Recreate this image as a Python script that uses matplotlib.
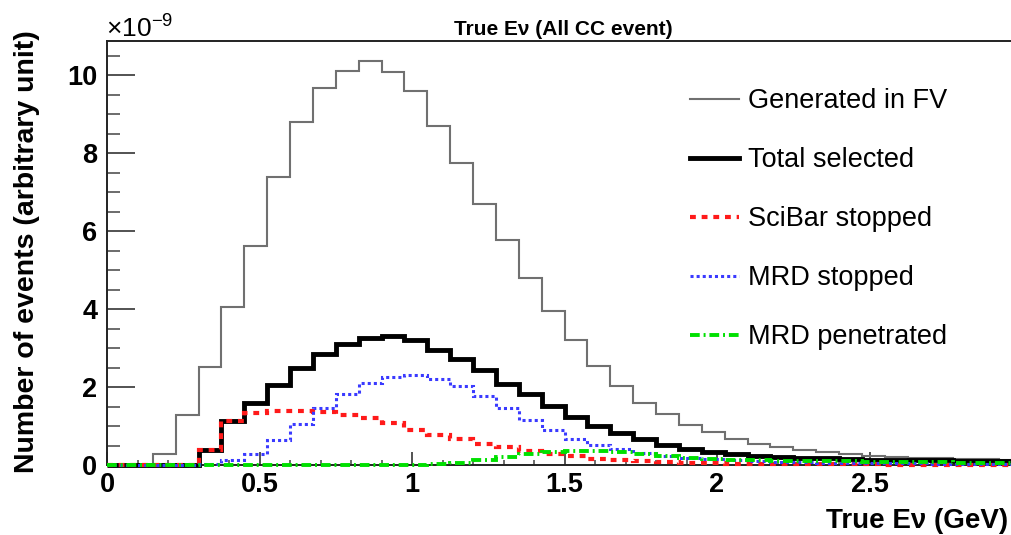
import numpy as np
import matplotlib
matplotlib.use("Agg")
import matplotlib.pyplot as plt
from matplotlib.ticker import MultipleLocator

# histogram binning: 40 bins of 0.075 GeV starting at 0
n_bins = 40
bin_width = 0.075

# bin contents (units of 1e-9)
generated = [0, 0, 0.28, 1.28, 2.52, 4.05, 5.62, 7.39, 8.79, 9.68,
             10.11, 10.36, 10.08, 9.6, 8.7, 7.75, 6.71, 5.77, 4.79, 3.95,
             3.2, 2.54, 2.03, 1.6, 1.3, 1.03, 0.85, 0.68, 0.55, 0.47,
             0.38, 0.33, 0.28, 0.24, 0.21, 0.19, 0.17, 0.16, 0.15, 0.14]
total = [0, 0, 0, 0, 0.38, 1.14, 1.6, 2.05, 2.48, 2.85,
         3.1, 3.27, 3.32, 3.2, 2.95, 2.71, 2.44, 2.09, 1.82, 1.51,
         1.22, 1.0, 0.82, 0.66, 0.52, 0.42, 0.33, 0.27, 0.23, 0.2,
         0.18, 0.17, 0.15, 0.14, 0.13, 0.12, 0.12, 0.11, 0.1, 0.1]
scibar_stopped = [0, 0, 0, 0, 0.38, 1.14, 1.34, 1.38, 1.39, 1.35,
                  1.28, 1.2, 1.08, 0.9, 0.77, 0.67, 0.55, 0.45, 0.37, 0.29,
                  0.22, 0.16, 0.12, 0.09, 0.07, 0.05, 0.04, 0.03, 0.03, 0.02,
                  0.02, 0.02, 0.02, 0.02, 0.01, 0.01, 0.01, 0.01, 0.01, 0.01]
mrd_stopped = [0, 0, 0, 0, 0.02, 0.13, 0.28, 0.64, 1.06, 1.46,
               1.81, 2.11, 2.27, 2.32, 2.2, 2.02, 1.77, 1.45, 1.15, 0.9,
               0.66, 0.51, 0.4, 0.31, 0.24, 0.19, 0.15, 0.12, 0.1, 0.08,
               0.07, 0.06, 0.05, 0.05, 0.04, 0.04, 0.03, 0.03, 0.03, 0.02]
mrd_penetrated = [0, 0, 0, 0, 0, 0, 0, 0, 0, 0,
                  0, 0, 0, 0.01, 0.02, 0.05, 0.13, 0.21, 0.29, 0.34,
                  0.37, 0.37, 0.33, 0.28, 0.22, 0.18, 0.15, 0.13, 0.12, 0.11,
                  0.1, 0.09, 0.09, 0.08, 0.08, 0.07, 0.07, 0.06, 0.06, 0.06]

x_ticks = [0, 0.5, 1, 1.5, 2, 2.5]
x_tick_labels = ["0", "0.5", "1", "1.5", "2", "2.5"]
y_ticks = [0, 2, 4, 6, 8, 10]
y_tick_labels = ["0", "2", "4", "6", "8", "10"]

plt.rcParams["font.family"] = ["Liberation Sans", "DejaVu Sans"]
plt.rcParams["mathtext.fontset"] = "custom"
plt.rcParams["mathtext.rm"] = "Liberation Sans"

edges = np.arange(n_bins + 1) * bin_width

W, H = 1011, 535
fig = plt.figure(figsize=(W / 100, H / 100), dpi=100)
# axes runs a little past the right edge of the picture (cropped original)
ax = fig.add_axes([107 / W, 70 / H, 915 / W, 424 / H])

common = dict(zorder=3, clip_on=False)
ax.stairs(generated, edges, color="#707070", lw=1.5,
          label="Generated in FV", **common)
ax.stairs(total, edges, color="black", lw=3.5,
          label="Total selected", **common)
ax.stairs(scibar_stopped, edges, color="#ff1a1a", lw=3,
          linestyle=(0, (1.4, 1.4)), label="SciBar stopped", **common)
ax.stairs(mrd_stopped, edges, color="#3a3aff", lw=2.2,
          linestyle=(0, (1, 1)), label="MRD stopped", **common)
ax.stairs(mrd_penetrated, edges, color="#00e000", lw=2.8,
          linestyle=(0, (2.5, 1, 0.5, 1)), label="MRD penetrated", **common)

ax.set_xlim(0, 3)
ax.set_ylim(0, 10.88)

ax.set_xticks(x_ticks, x_tick_labels)
ax.set_yticks(y_ticks, y_tick_labels)
ax.xaxis.set_minor_locator(MultipleLocator(0.1))
ax.yaxis.set_minor_locator(MultipleLocator(0.5))
ax.tick_params(which="both", direction="in", top=False, right=False,
               labelsize=19.5, color="#444444")
ax.tick_params(axis="y", which="major", length=20, width=1.3, pad=7)
ax.tick_params(axis="y", which="minor", length=9.5, width=1.1)
ax.tick_params(axis="x", which="major", length=9.5, width=1.3, pad=5)
ax.tick_params(axis="x", which="minor", length=3.5, width=1.1)
for lab in ax.get_xticklabels() + ax.get_yticklabels():
    lab.set_fontweight("bold")

for s in ax.spines.values():
    s.set_linewidth(1.4)
    s.set_color("#222222")

ax.legend(loc="upper left", bbox_to_anchor=(690 / W, (H - 88) / H),
          bbox_transform=fig.transFigure, frameon=False, fontsize=19.5,
          handlelength=1.8, handletextpad=0.36, labelspacing=1.22,
          borderpad=0, borderaxespad=0)

fig.text(563 / W, (H - 35) / H, "True E\u03bd (All CC event)",
         ha="center", va="baseline", fontsize=15, fontweight="bold")
fig.text(106 / W, (H - 37) / H, r"$\times10^{-9}$", ha="left",
         va="baseline", fontsize=19)
fig.text(27 / W, (H - 252) / H, "Number of events (arbitrary unit)",
         rotation=90, ha="center", va="center", fontsize=20.5,
         fontweight="bold")
fig.text(1008 / W, (H - 528) / H, "True E\u03bd (GeV)", ha="right",
         va="baseline", fontsize=20, fontweight="bold")

fig.savefig("out.png", dpi=100)
